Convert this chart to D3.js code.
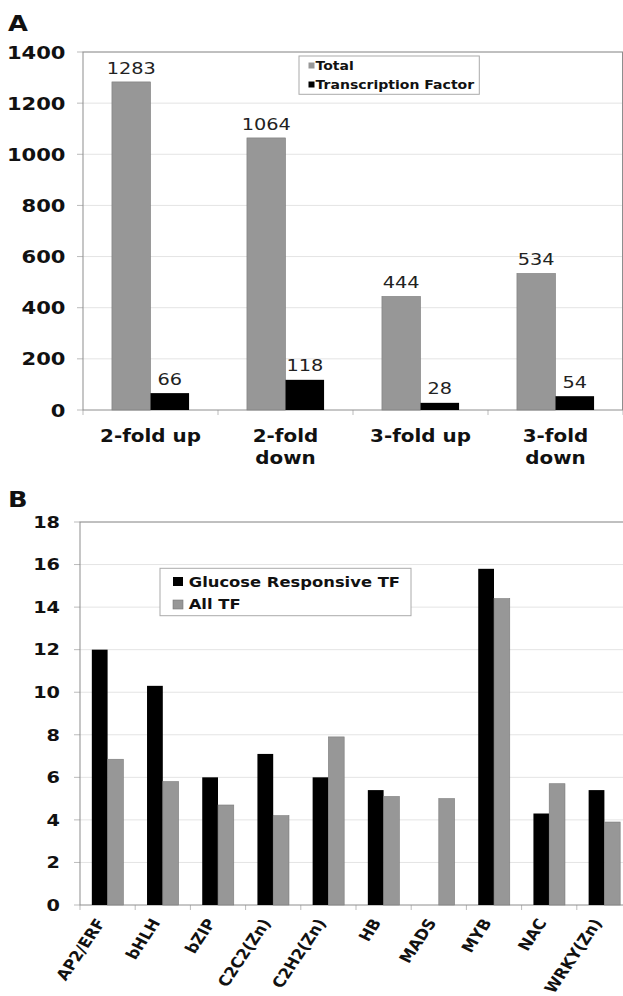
<!DOCTYPE html>
<html>
<head>
<meta charset="utf-8">
<script src="https://cdn.jsdelivr.net/npm/d3@7"></script>
<style>
  body { margin: 0; background: #fff; }
  svg { display: block; font-family: "DejaVu Sans", Verdana, sans-serif; }
</style>
</head>
<body>
<svg id="chart"></svg>
<script>
// Panel A data
const foldCategories = ["2-fold up", "2-fold down", "3-fold up", "3-fold down"];
const foldLabelLines = [["2-fold up"], ["2-fold", "down"], ["3-fold up"], ["3-fold", "down"]];
const totalGenes = [1283, 1064, 444, 534];
const tfGenes = [66, 118, 28, 54];
const ticksA = [0, 200, 400, 600, 800, 1000, 1200, 1400];

// Panel B data
const tfFamilies = ["AP2/ERF", "bHLH", "bZIP", "C2C2(Zn)", "C2H2(Zn)", "HB", "MADS", "MYB", "NAC", "WRKY(Zn)"];
const glucoseTF = [12.0, 10.3, 6.0, 7.1, 6.0, 5.4, 0, 15.8, 4.3, 5.4];
const allTF = [6.85, 5.8, 4.7, 4.2, 7.9, 5.1, 5.0, 14.4, 5.7, 3.9];
const ticksB = [0, 2, 4, 6, 8, 10, 12, 14, 16, 18];

const WIDTH = 623;
const HEIGHT = 996;
const SX = 1.17; // the figure's text is slightly stretched sideways
const GRAY = "#979797";

const svg = d3.select("#chart").attr("width", WIDTH).attr("height", HEIGHT);

function label(g, x, y, txt, size, weight, anchor, extra) {
  return g.append("text")
    .attr("transform", `translate(${x},${y}) scale(${SX},1)` + (extra || ""))
    .attr("text-anchor", anchor)
    .attr("font-size", size)
    .attr("font-weight", weight)
    .attr("fill", "#111")
    .text(txt);
}

function frame(g, x, y, left, right, top, bottom, ticks, groups) {
  // gridlines
  g.append("g").selectAll("line").data(ticks.slice(1)).join("line")
    .attr("x1", left).attr("x2", right)
    .attr("y1", (d) => y(d)).attr("y2", (d) => y(d))
    .attr("stroke", "#e4e4e4");
  // outer y ticks
  g.append("g").selectAll("line").data(ticks).join("line")
    .attr("x1", left - 6).attr("x2", left)
    .attr("y1", (d) => y(d)).attr("y2", (d) => y(d))
    .attr("stroke", "#bbb");
  // x ticks at group boundaries
  const bounds = groups.map((c) => x(c)).concat([x(groups[groups.length - 1]) + x.bandwidth()]);
  g.append("g").selectAll("line").data(bounds).join("line")
    .attr("x1", (d) => d).attr("x2", (d) => d)
    .attr("y1", bottom).attr("y2", bottom + 5)
    .attr("stroke", "#bbb");
  g.append("rect")
    .attr("x", left).attr("y", top)
    .attr("width", right - left).attr("height", bottom - top)
    .attr("fill", "none").attr("stroke", "#8e8e8e");
}

// ---------- Panel A ----------
const gA = svg.append("g");
const xA = d3.scaleBand().domain(foldCategories).range([83, 623]);
const yA = d3.scaleLinear().domain([0, 1400]).range([410, 52]);
const wA = xA.bandwidth() / 3.5;

frame(gA, xA, yA, 83, 622.5, 52, 410, ticksA, foldCategories);

gA.append("g").selectAll("rect").data(totalGenes).join("rect")
  .attr("x", (d, i) => xA(foldCategories[i]) + 0.75 * wA)
  .attr("y", (d) => yA(d))
  .attr("width", wA).attr("height", (d) => yA(0) - yA(d))
  .attr("fill", GRAY).attr("stroke", "#7a7a7a").attr("stroke-width", 0.6);
gA.append("g").selectAll("rect").data(tfGenes).join("rect")
  .attr("x", (d, i) => xA(foldCategories[i]) + 1.75 * wA)
  .attr("y", (d) => yA(d))
  .attr("width", wA).attr("height", (d) => yA(0) - yA(d))
  .attr("fill", "#000");

totalGenes.forEach((v, i) => {
  label(gA, xA(foldCategories[i]) + 1.25 * wA, yA(v) - 8.4, v, 16.5, "normal", "middle").attr("fill", "#222");
  label(gA, xA(foldCategories[i]) + 2.25 * wA, yA(tfGenes[i]) - 8.4, tfGenes[i], 16.5, "normal", "middle").attr("fill", "#222");
});

ticksA.forEach((t) => label(gA, 65.5, yA(t) + 6.5, t, 18, "bold", "end"));

foldLabelLines.forEach((lines, i) => {
  const cx = xA(foldCategories[i]) + xA.bandwidth() / 2;
  lines.forEach((ln, j) => label(gA, cx, 442.3 + j * 22, ln, 17, "bold", "middle"));
});

label(gA, 8, 31, "A", 22, "bold", "start");

// legend A
const legA = gA.append("g");
legA.append("rect").attr("x", 299).attr("y", 56).attr("width", 180.3).attr("height", 38.3)
  .attr("fill", "#fff").attr("stroke", "#aaa");
[["Total", GRAY], ["Transcription Factor", "#000"]].forEach(([name, col], i) => {
  legA.append("rect").attr("x", 308.5).attr("y", 62.5 + i * 19).attr("width", 6).attr("height", 6)
    .attr("fill", col);
  label(legA, 315.5, 70 + i * 19, name, 12, "bold", "start");
});

// ---------- Panel B ----------
const gB = svg.append("g");
const xB = d3.scaleBand().domain(tfFamilies).range([80, 632]);
const yB = d3.scaleLinear().domain([0, 18]).range([905, 522]);
const wB = xB.bandwidth() / 3.5;

frame(gB, xB, yB, 80, 640, 522, 905, ticksB, tfFamilies);

gB.append("g").selectAll("rect").data(glucoseTF).join("rect")
  .attr("x", (d, i) => xB(tfFamilies[i]) + 0.75 * wB)
  .attr("y", (d) => yB(d))
  .attr("width", wB).attr("height", (d) => yB(0) - yB(d))
  .attr("fill", "#000");
gB.append("g").selectAll("rect").data(allTF).join("rect")
  .attr("x", (d, i) => xB(tfFamilies[i]) + 1.75 * wB)
  .attr("y", (d) => yB(d))
  .attr("width", wB).attr("height", (d) => yB(0) - yB(d))
  .attr("fill", GRAY).attr("stroke", "#7a7a7a").attr("stroke-width", 0.6);

ticksB.forEach((t) => label(gB, 60, yB(t) + 5.8, t, 16.5, "bold", "end"));

tfFamilies.forEach((f, i) => {
  const cx = xB(f) + xB.bandwidth() / 2;
  label(gB, cx - 7, 920, f, 14.5, "bold", "end", " rotate(-60)").attr("dominant-baseline", "central");
});

label(gB, 8, 507, "B", 22, "bold", "start");

// legend B
const legB = gB.append("g");
legB.append("rect").attr("x", 160).attr("y", 568.3).attr("width", 251).attr("height", 47.4)
  .attr("fill", "#fff").attr("stroke", "#aaa");
[["Glucose Responsive TF", "#000"], ["All TF", GRAY]].forEach(([name, col], i) => {
  legB.append("rect").attr("x", 173).attr("y", 577 + i * 23).attr("width", 10).attr("height", 9)
    .attr("fill", col).attr("stroke", i ? "#777" : "none").attr("stroke-width", 0.6);
  label(legB, 188.7, 586.7 + i * 22.6, name, 14, "bold", "start");
});
</script>
</body>
</html>
